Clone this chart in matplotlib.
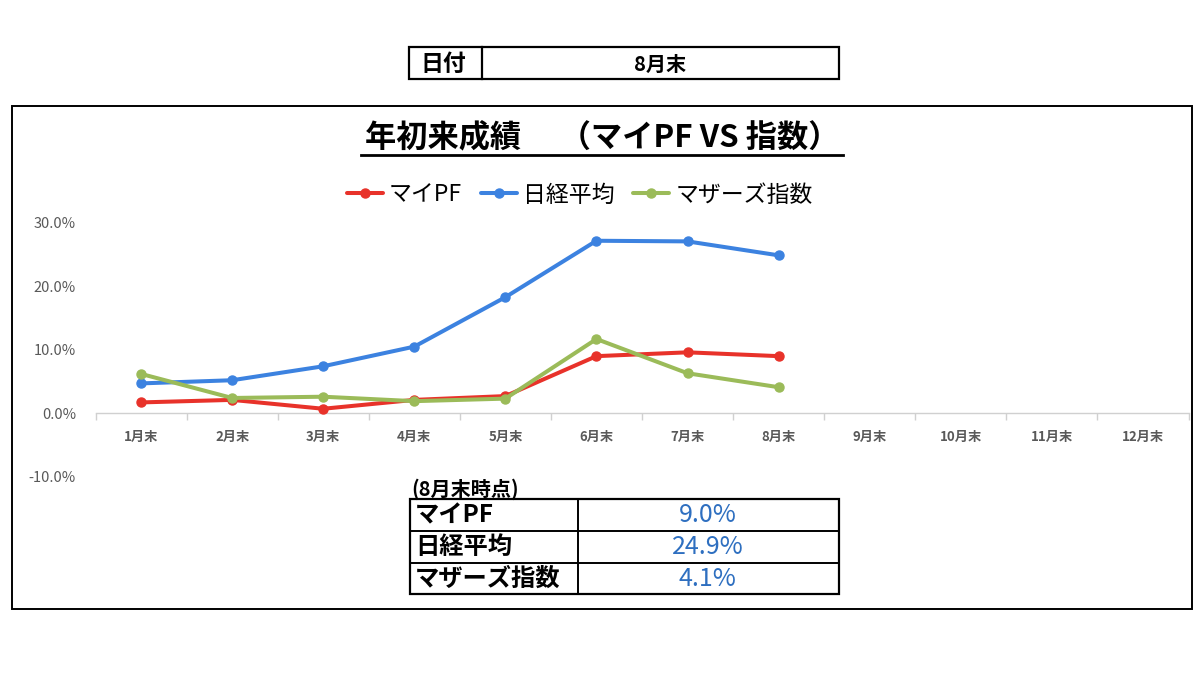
import matplotlib
matplotlib.use("Agg")
import matplotlib.pyplot as plt
from matplotlib.patches import Rectangle
from matplotlib.ticker import FuncFormatter, FixedLocator

plt.rcParams['font.family'] = ['Noto Sans CJK JP', 'DejaVu Sans']

# ---- data ----
months = ['1月末', '2月末', '3月末', '4月末', '5月末', '6月末',
          '7月末', '8月末', '9月末', '10月末', '11月末', '12月末']
my_pf = [1.7, 2.1, 0.7, 2.1, 2.7, 9.0, 9.6, 9.0]
nikkei = [4.7, 5.2, 7.4, 10.5, 18.3, 27.2, 27.1, 24.9]
mothers = [6.2, 2.4, 2.6, 1.9, 2.3, 11.7, 6.3, 4.1]
series_names = ['マイPF', '日経平均', 'マザーズ指数']
y_ticks = [-10, 0, 10, 20, 30]
date_label = '8月末'
title = '年初来成績　 （マイPF VS 指数）'

colors = ['#e8322a', '#3c82e0', '#9bbb59']

W, H = 1200, 675
fig = plt.figure(figsize=(12, 6.75), dpi=100)
fig.patch.set_facecolor('white')

# overlay for frames/tables (pixel coords)
ov = fig.add_axes([0, 0, 1, 1])
ov.set_xlim(0, W)
ov.set_ylim(H, 0)
ov.axis('off')

# outer chart frame
ov.add_patch(Rectangle((12, 106), 1180, 503, fill=False, ec='black', lw=1.4))

# top date table
ov.add_patch(Rectangle((409, 47), 430, 32, fill=False, ec='black', lw=1.6))
ov.plot([482, 482], [47, 79], color='black', lw=1.6)
ov.text(443, 64, '日付', ha='center', va='center', fontsize=16.5, fontweight='bold')
ov.text(660, 64, date_label, ha='center', va='center', fontsize=14.5, fontweight='bold')

# title with underline
t = ov.text(602, 138, title, ha='center', va='center', fontsize=22.5, fontweight='bold')
fig.canvas.draw()
bb = t.get_window_extent(renderer=fig.canvas.get_renderer())
x0, x1 = bb.x0, bb.x1
ov.plot([x0 - 4, x1 + 4], [155, 155], color='black', lw=2)

# main axes
left, right = 95.5 / W, 1188.5 / W
top_px, bot_px = 223, 476.6
ax = fig.add_axes([left, 1 - bot_px / H, right - left, (bot_px - top_px) / H])
ax.set_facecolor('none')
x = list(range(len(months)))
series = [my_pf, nikkei, mothers]
for i, (vals, name, c) in enumerate(zip(series, series_names, colors)):
    ax.plot(x[:len(vals)], vals, color=c, lw=2.9, marker='o', markersize=6.5,
            label=name, zorder=3 + i, solid_capstyle='round')

ax.set_xlim(-0.5, len(months) - 0.5)
ax.set_ylim(y_ticks[0], y_ticks[-1])
ax.set_yticks(y_ticks)
ax.yaxis.set_major_formatter(FuncFormatter(lambda v, p: f'{v:.1f}%'))
for s in ['left', 'right', 'top']:
    ax.spines[s].set_visible(False)
ax.spines['bottom'].set_position(('data', 0))
ax.spines['bottom'].set_color('#d0d0d0')
ax.spines['bottom'].set_linewidth(1.0)
ax.set_xticks(x)
ax.set_xticklabels(months)
ax.xaxis.set_minor_locator(FixedLocator([i - 0.5 for i in range(len(months) + 1)]))
ax.tick_params(axis='x', which='major', length=0, pad=12, labelsize=9.5,
               labelcolor='#595959')
ax.tick_params(axis='x', which='minor', length=5, color='#d0d0d0', width=1)
for lbl in ax.get_xticklabels():
    lbl.set_fontweight('bold')
ax.tick_params(axis='y', length=0, pad=14, labelsize=10.5, labelcolor='#595959')

fig.legend(loc='center', bbox_to_anchor=(0.483, 1 - 195 / H), ncol=3,
           frameon=False, fontsize=16.5, handlelength=1.6, handletextpad=0.25,
           columnspacing=0.8)

# bottom summary table
ov.text(411, 489, f'({date_label}時点)', ha='left', va='center', fontsize=14.5,
        fontweight='bold')
tx0, tx1, tcol = 410, 839, 578
rows_y = [499, 531, 563, 594]
ov.add_patch(Rectangle((tx0, rows_y[0]), tx1 - tx0, rows_y[-1] - rows_y[0],
                       fill=False, ec='black', lw=1.6))
ov.plot([tcol, tcol], [rows_y[0], rows_y[-1]], color='black', lw=1.4)
for yy in rows_y[1:-1]:
    ov.plot([tx0, tx1], [yy, yy], color='black', lw=1.4)
for i, (name, vals) in enumerate(zip(series_names, series)):
    yc = (rows_y[i] + rows_y[i + 1]) / 2
    ov.text(415, yc, name, ha='left', va='center', fontsize=17.5, fontweight='bold')
    ov.text((tcol + tx1) / 2 - 1, yc, f'{vals[-1]:.1f}%', ha='center', va='center',
            fontsize=18, color='#2e6fc0')

fig.savefig('out.png', dpi=100, facecolor='white')
